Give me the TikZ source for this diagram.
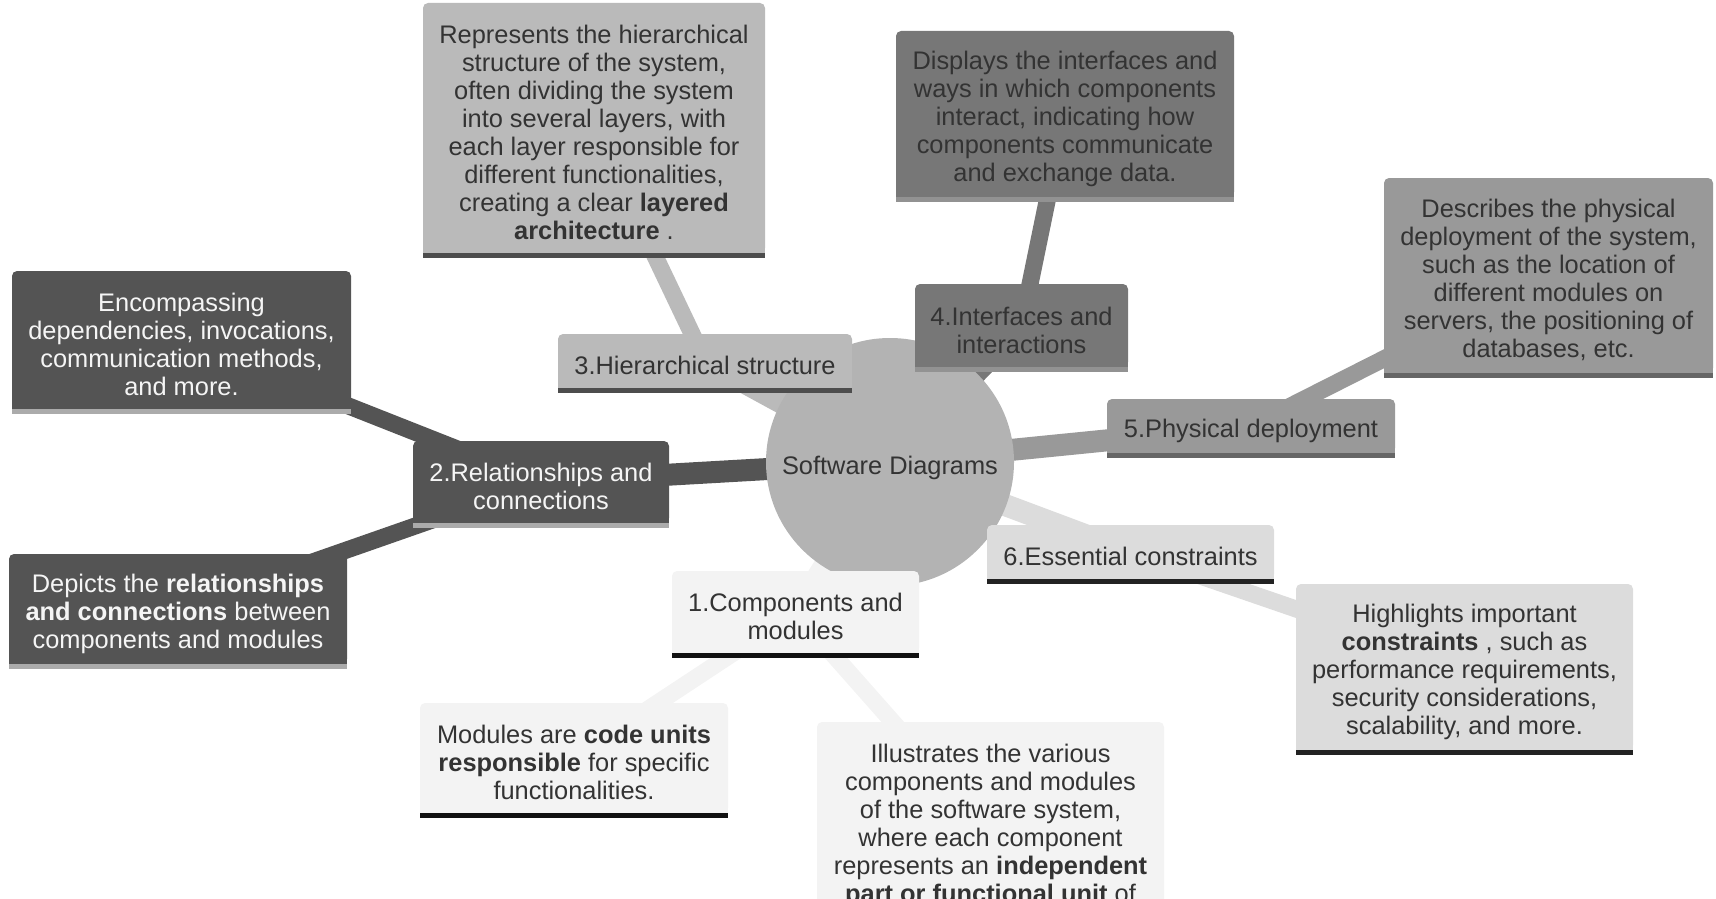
\documentclass[tikz,border=0pt]{standalone}
\usepackage{fontspec}
\setmainfont{Liberation Sans}
\pgfdeclarelayer{lines}
\pgfsetlayers{lines,main}
\definecolor{txt}{HTML}{333333}
\definecolor{txtw}{HTML}{F5F5F5}
\definecolor{hubc}{HTML}{B3B3B3}
\definecolor{fA}{HTML}{F3F3F3}\definecolor{bA}{HTML}{111111}
\definecolor{fB}{HTML}{545454}\definecolor{bB}{HTML}{ABABAB}
\definecolor{fC}{HTML}{BABABA}\definecolor{bC}{HTML}{4D4D4D}
\definecolor{fD}{HTML}{777777}\definecolor{bD}{HTML}{929292}
\definecolor{fE}{HTML}{999999}\definecolor{bE}{HTML}{666666}
\definecolor{fF}{HTML}{DCDCDC}\definecolor{bF}{HTML}{222222}
\tikzset{
  mmtext/.style={inner sep=0pt, align=center, font=\fontsize{25.4}{28}\selectfont, text=txt},
  mmbox/.style={inner sep=0pt, rectangle, rounded corners=5pt},
  hubnode/.style={inner sep=0pt, circle, fill=hubc, minimum size=248pt},
  mainline/.style={line width=22pt},
  subline/.style={line width=17pt},
}
\newcommand{\mmnode}[9]{%
  \node[mmbox, fill=#6, minimum width=#4pt, minimum height=#5pt] (#1) at (#2,#3) {};
  \fill[#6] (#1.south west) rectangle ([yshift=6pt]#1.south east);
  \fill[#7] (#1.south west) rectangle ([yshift=-5pt]#1.south east);
  \node[mmtext, text=#8] (#1-label) at ([yshift=-4.5pt]#1.center) {#9};
}
\begin{document}
\begin{tikzpicture}[x=1pt,y=-1pt]
\useasboundingbox (0,0) rectangle (1716,899);
\clip (0,0) rectangle (1716,899);
% hub
\node[hubnode] (hub) at (890,462) {};
\node[mmtext] (hub-label) at ([yshift=-6pt]hub.center) {Software Diagrams};
% main topics
\mmnode{comp}{795.5}{612}{247}{82}{fA}{bA}{txt}{1.Components and\\modules}
\mmnode{rel}{541}{482}{256}{82}{fB}{bB}{txtw}{2.Relationships and\\connections}
\mmnode{hier}{705}{361}{294}{54}{fC}{bC}{txt}{3.Hierarchical structure}
\mmnode{intf}{1021.5}{325.5}{213}{83}{fD}{bD}{txt}{4.Interfaces and\\interactions}
\mmnode{phys}{1251}{426}{288}{54}{fE}{bE}{txt}{5.Physical deployment}
\mmnode{cons}{1130.5}{552}{287}{54}{fF}{bF}{txt}{6.Essential constraints}
% descriptions
\mmnode{encomp}{181.5}{340}{339}{138}{fB}{bB}{txtw}{Encompassing\\dependencies, invocations,\\communication methods,\\and more.}
\mmnode{depicts}{178}{609}{338}{110}{fB}{bB}{txtw}{Depicts the \textbf{relationships}\\\textbf{and connections} between\\components and modules}
\mmnode{hierdesc}{594}{128}{342}{250}{fC}{bC}{txt}{Represents the hierarchical\\structure of the system,\\often dividing the system\\into several layers, with\\each layer responsible for\\different functionalities,\\creating a clear \textbf{layered}\\\textbf{architecture} .}
\mmnode{intfdesc}{1065}{114}{338}{166}{fD}{bD}{txt}{Displays the interfaces and\\ways in which components\\interact, indicating how\\components communicate\\and exchange data.}
\mmnode{physdesc}{1548.5}{275.5}{329}{195}{fE}{bE}{txt}{Describes the physical\\deployment of the system,\\such as the location of\\different modules on\\servers, the positioning of\\databases, etc.}
\mmnode{consdesc}{1464.5}{667}{337}{166}{fF}{bF}{txt}{Highlights important\\\textbf{constraints} , such as\\performance requirements,\\security considerations,\\scalability, and more.}
\mmnode{moddesc}{574}{758}{308}{110}{fA}{bA}{txt}{Modules are \textbf{code units}\\\textbf{responsible} for specific\\functionalities.}
\mmnode{illdesc}{990.5}{832.5}{347}{221}{fA}{bA}{txt}{Illustrates the various\\components and modules\\of the software system,\\where each component\\represents an \textbf{independent}\\\textbf{part or functional unit} of\\\mbox{}}
% connectors
\begin{pgfonlayer}{lines}
\draw[mainline, fA] (hub.center) -- (comp.center);
\draw[mainline, fB] (hub.center) -- (rel.center);
\draw[mainline, fC] (hub.center) -- (hier.center);
\draw[mainline, fD] (hub.center) -- (intf.center);
\draw[mainline, fE] (hub.center) -- (phys.center);
\draw[mainline, fF] (hub.center) -- (cons.center);
\draw[subline, fB] (rel.center) -- (encomp.center);
\draw[subline, fB] (rel.center) -- (depicts.center);
\draw[subline, fC] (hier.center) -- (hierdesc.center);
\draw[subline, fD] (intf.center) -- (intfdesc.center);
\draw[subline, fE] (phys.center) -- (physdesc.center);
\draw[subline, fF] (cons.center) -- (consdesc.center);
\draw[subline, fA] (comp.center) -- (moddesc.center);
\draw[subline, fA] (comp.center) -- (illdesc.center);
\end{pgfonlayer}
\end{tikzpicture}
\end{document}
